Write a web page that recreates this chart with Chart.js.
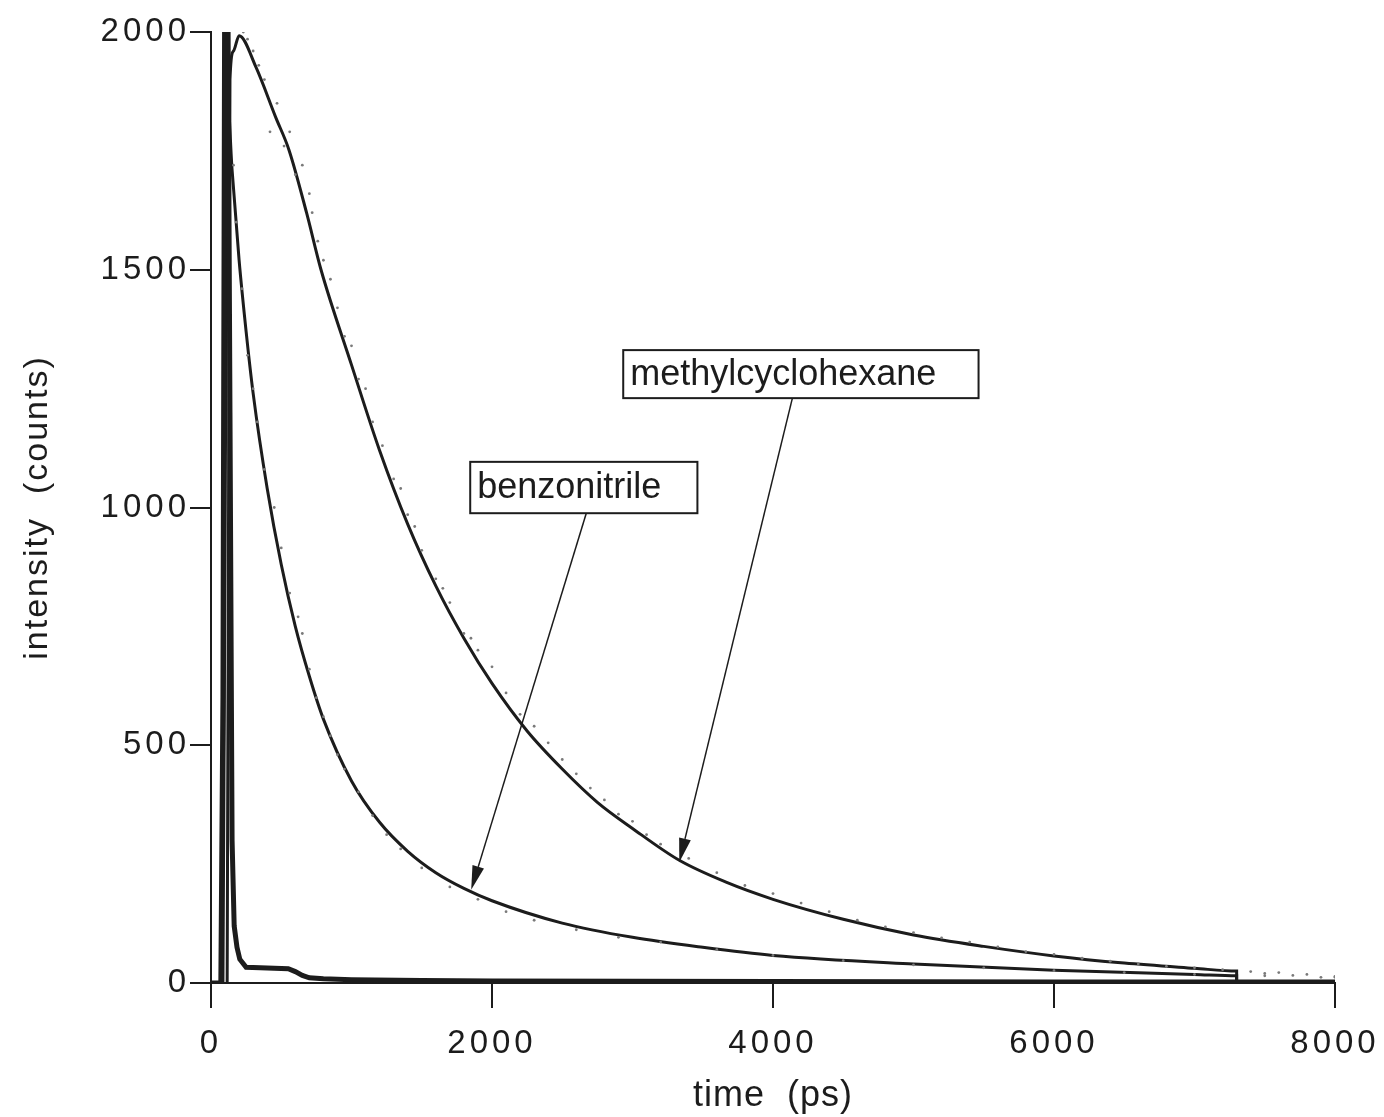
<!DOCTYPE html>
<html>
<head>
<meta charset="utf-8">
<script src="https://cdn.jsdelivr.net/npm/chart.js@4.4.1/dist/chart.umd.min.js"></script>
<style>
  html, body { margin: 0; padding: 0; background: #fff; }
  #wrap { width: 1384px; height: 1117px; position: relative; }
</style>
</head>
<body>
<div id="wrap"><canvas id="decay"></canvas></div>
<script>
// tick values
const xTicks = [0, 2000, 4000, 6000, 8000];
const yTicks = [0, 500, 1000, 1500, 2000];

// instrument response (ps, counts)
const irfTime   = [0, 50, 70, 85, 100, 115, 135, 150, 165, 185, 205, 250, 350, 450, 550, 600, 650, 700, 800, 1000, 1500, 2000, 4000, 6000, 8000];
const irfCounts = [0, 0, 0, 600, 2400, 2400, 1200, 300, 120, 75, 50, 33, 32, 31, 30, 24, 16, 11, 9, 7, 5, 4, 3, 2, 2];

// fitted decay, methylcyclohexane
const methylTime   = [115, 125, 135, 160, 200, 320, 460, 555, 680, 783, 1000, 1200, 1400, 1600, 1800, 2000, 2250, 2500, 2750, 3000, 3333, 3666, 4000, 4500, 5000, 5500, 6000, 6500, 7000, 7300, 7300];
const methylCounts = [0, 1000, 1900, 1960, 1992, 1926, 1821, 1752, 1620, 1500, 1300, 1120, 965, 835, 725, 630, 530, 450, 380, 325, 258, 212, 176, 134, 101, 77, 57, 42, 31, 25, 0];

// fitted decay, benzonitrile
const benzoTime   = [85, 100, 115, 150, 200, 250, 300, 400, 500, 600, 700, 800, 1000, 1200, 1400, 1600, 1800, 2000, 2500, 3000, 3500, 4000, 5000, 6000, 7000, 7300, 7300];
const benzoCounts = [0, 900, 1870, 1710, 1520, 1370, 1240, 1040, 880, 750, 645, 555, 425, 338, 277, 232, 199, 173, 126, 96, 75, 58, 40, 27, 18, 15, 0];

// raw photon counts (scattered points)
const rawMethylTime   = [230, 260, 300, 340, 380, 420, 470, 520, 560, 600, 650, 700, 720, 760, 800, 850, 900, 950, 1000, 1050, 1100, 1150, 1220, 1300, 1350, 1400, 1450, 1500, 1600, 1650, 1700, 1800, 1850, 1900, 2000, 2100, 2200, 2300, 2400, 2500, 2600, 2700, 2800, 2900, 3000, 3100, 3200, 3400, 3600, 3800, 4000, 4200, 4400, 4600, 4800, 5000, 5200, 5400, 5600, 5800, 6000, 6200, 6400, 6600, 6800, 7000, 7200, 7400, 7500, 7600, 7700, 7800, 7900, 8000];
const rawMethylCounts = [2000, 1985, 1960, 1930, 1900, 1790, 1850, 1760, 1790, 1700, 1720, 1660, 1620, 1560, 1520, 1480, 1420, 1360, 1340, 1270, 1250, 1180, 1130, 1060, 1040, 985, 960, 910, 850, 830, 800, 735, 725, 700, 665, 610, 565, 540, 505, 470, 440, 410, 385, 355, 340, 312, 292, 262, 232, 205, 188, 168, 150, 132, 118, 106, 95, 86, 76, 66, 60, 52, 46, 40, 35, 32, 28, 24, 20, 22, 16, 18, 12, 14];
const rawBenzoTime   = [160, 180, 220, 260, 300, 330, 380, 450, 500, 560, 620, 650, 700, 750, 800, 850, 900, 950, 1050, 1150, 1250, 1350, 1500, 1700, 1900, 2100, 2300, 2600, 2900, 3200, 3600, 4000, 4500, 5000, 5500, 6000, 6500, 7000, 7500, 8000];
const rawBenzoCounts = [1720, 1600, 1460, 1320, 1250, 1180, 1080, 1000, 915, 820, 770, 735, 660, 600, 560, 520, 480, 450, 402, 352, 312, 282, 242, 202, 176, 150, 132, 112, 96, 86, 70, 58, 47, 38, 32, 26, 22, 18, 15, 12];

// labels with arrows (data units)
const labelText = ['methylcyclohexane', 'benzonitrile'];
const labelBox  = [[2934, 5463, 1331, 1230], [1845, 3462, 1096, 988]]; // x0, x1, yTop, yBottom
const arrowFrom = [[4138, 1230], [2671, 988]];
const arrowTo   = [[3333, 254], [1852, 196]];

const ink = '#1c1c1c';
const pts = (xs, ys) => xs.map((x, i) => ({ x: x, y: ys[i] }));

const labelsPlugin = {
  id: 'labelsPlugin',
  beforeDraw(chart) {
    chart.ctx.letterSpacing = '4px';
  },
  beforeDatasetsDraw(chart) {
    chart.ctx.letterSpacing = '0px';
  },
  afterDraw(chart) {
    const ctx = chart.ctx;
    const xs = chart.scales.x, ys = chart.scales.y;
    const area = chart.chartArea;
    ctx.save();
    ctx.fillStyle = ink;
    ctx.strokeStyle = ink;

    // axis titles
    ctx.font = '36px "Liberation Sans", Arial, sans-serif';
    ctx.textAlign = 'center';
    ctx.textBaseline = 'middle';
    ctx.letterSpacing = '1px';
    ctx.fillText('time  (ps)', (area.left + area.right) / 2, 1096);
    ctx.save();
    ctx.translate(38, (area.top + area.bottom) / 2);
    ctx.rotate(-Math.PI / 2);
    ctx.font = '34px "Liberation Sans", Arial, sans-serif';
    ctx.letterSpacing = '2px';
    ctx.fillText('intensity  (counts)', 0, 0);
    ctx.restore();

    // boxed labels + arrows
    ctx.letterSpacing = '0px';
    for (let i = 0; i < labelText.length; i++) {
      const b = labelBox[i];
      const x0 = xs.getPixelForValue(b[0]), x1 = xs.getPixelForValue(b[1]);
      const y0 = ys.getPixelForValue(b[2]), y1 = ys.getPixelForValue(b[3]);
      ctx.fillStyle = '#fff';
      ctx.fillRect(x0, y0, x1 - x0, y1 - y0);
      ctx.lineWidth = 2;
      ctx.strokeRect(x0, y0, x1 - x0, y1 - y0);
      ctx.fillStyle = ink;
      ctx.font = '36px "Liberation Sans", Arial, sans-serif';
      ctx.textAlign = 'left';
      ctx.textBaseline = 'middle';
      ctx.fillText(labelText[i], x0 + 7, (y0 + y1) / 2 + 1);

      const ax = xs.getPixelForValue(arrowFrom[i][0]), ay = ys.getPixelForValue(arrowFrom[i][1]);
      const bx = xs.getPixelForValue(arrowTo[i][0]), by = ys.getPixelForValue(arrowTo[i][1]);
      const ang = Math.atan2(by - ay, bx - ax);
      const len = 24, half = 6;
      const hx = bx - len * Math.cos(ang), hy = by - len * Math.sin(ang);
      ctx.lineWidth = 1.5;
      ctx.beginPath();
      ctx.moveTo(ax, ay);
      ctx.lineTo(hx, hy);
      ctx.stroke();
      ctx.beginPath();
      ctx.moveTo(bx, by);
      ctx.lineTo(hx + half * Math.sin(ang), hy - half * Math.cos(ang));
      ctx.lineTo(hx - half * Math.sin(ang), hy + half * Math.cos(ang));
      ctx.closePath();
      ctx.fill();
    }
    ctx.restore();
  }
};

const tickFont = { family: '"Liberation Sans", Arial, sans-serif', size: 33 };

new Chart(document.getElementById('decay'), {
  type: 'scatter',
  plugins: [labelsPlugin],
  data: {
    datasets: [
      { label: 'raw methylcyclohexane', data: pts(rawMethylTime, rawMethylCounts), showLine: false,
        pointRadius: 1.4, pointBackgroundColor: '#7a7a7a', pointBorderWidth: 0 },
      { label: 'raw benzonitrile', data: pts(rawBenzoTime, rawBenzoCounts), showLine: false,
        pointRadius: 1.4, pointBackgroundColor: '#7a7a7a', pointBorderWidth: 0 },
      { label: 'IRF', data: pts(irfTime, irfCounts), showLine: true, borderColor: ink,
        borderWidth: 5, pointRadius: 0, tension: 0 },
      { label: 'methylcyclohexane', data: pts(methylTime, methylCounts), showLine: true, borderColor: ink,
        borderWidth: 3, pointRadius: 0, cubicInterpolationMode: 'monotone' },
      { label: 'benzonitrile', data: pts(benzoTime, benzoCounts), showLine: true, borderColor: ink,
        borderWidth: 3, pointRadius: 0, cubicInterpolationMode: 'monotone' }
    ]
  },
  options: {
    responsive: true,
    maintainAspectRatio: false,
    animation: false,
    layout: { padding: { top: 32, right: 49, left: 0, bottom: 0 } },
    plugins: { legend: { display: false }, tooltip: { enabled: false } },
    scales: {
      x: {
        type: 'linear', min: 0, max: 8000,
        afterBuildTicks: s => { s.ticks = xTicks.map(v => ({ value: v })); },
        afterFit: s => { s.height = 134; s.paddingLeft = 0; s.paddingRight = 0; },
        grid: { drawOnChartArea: false, drawTicks: true, tickLength: 25, color: ink, lineWidth: 2 },
        border: { display: true, color: ink, width: 2 },
        ticks: { color: ink, padding: 16, maxRotation: 0, font: tickFont, callback: v => String(v) }
      },
      y: {
        type: 'linear', min: 0, max: 2000,
        afterBuildTicks: s => { s.ticks = yTicks.map(v => ({ value: v })); },
        afterFit: s => { s.width = 211; s.paddingTop = 0; s.paddingBottom = 0; },
        grid: { drawOnChartArea: false, drawTicks: true, tickLength: 21, color: ink, lineWidth: 2 },
        border: { display: true, color: ink, width: 2 },
        ticks: { color: ink, padding: 0, font: tickFont, callback: v => String(v) }
      }
    }
  }
});
</script>
</body>
</html>
